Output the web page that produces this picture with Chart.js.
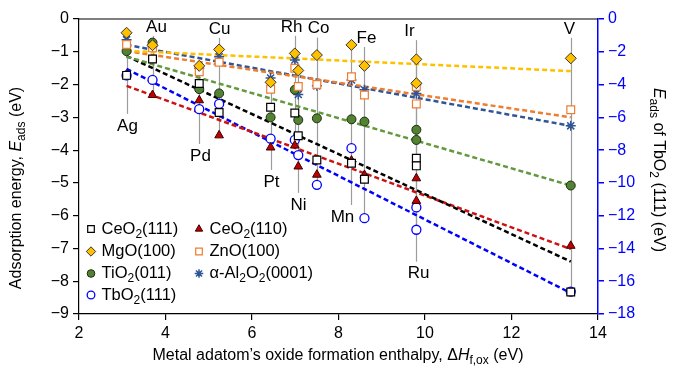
<!DOCTYPE html>
<html lang="en">
<head>
<meta charset="UTF-8" />
<title>Adsorption energy vs oxide formation enthalpy</title>
<style>
  html, body { margin: 0; padding: 0; background: #fff; }
  .box { width: 675px; height: 368px; }
</style>
</head>
<body>
<div class="box"><canvas id="myChart" width="675" height="368"></canvas></div>
<script src="https://cdn.jsdelivr.net/npm/chart.js"></script>
<script>
// metal adatoms and their oxide formation enthalpy (eV)
const metals = ["Ag", "Au", "Pd", "Cu", "Pt", "Rh", "Ni", "Co", "Mn", "Fe", "Ir", "Ru", "V"];
const dH = [3.10, 3.70, 4.78, 5.24, 6.43, 6.99, 7.07, 7.50, 8.30, 8.60, 9.80, 9.80, 13.37];

// adsorption energies (eV), same order as metals
const ceo2_111 = [-1.72, -1.22, -1.97, -2.85, -2.69, -2.87, -3.56, -4.30, -4.40, -4.89, -4.25, -4.48, -8.33];
const ceo2_110 = [-1.70, -2.32, -2.48, -3.55, -3.92, -3.86, -4.50, -4.75, -4.32, -4.76, -4.86, -5.55, -6.92];
const mgo_100  = [-0.42, -0.80, -1.43, -0.93, -1.93, -1.05, -1.57, -1.10, -0.79, -1.43, -1.23, -1.96, -1.20];
const zno_100  = [-0.78, -0.88, -1.61, -1.32, -2.14, -1.50, -2.06, -2.00, -1.76, -2.32, -2.06, -2.59, -2.77];
const tio2_011 = [-0.98, -0.72, -2.14, -2.27, -3.00, -2.16, -3.08, -3.03, -3.06, -3.13, -3.38, -3.69, -5.08];
const al2o3    = [-0.63, -0.84, -1.50, -1.15, -1.80, -1.25, -2.30, -2.04, -1.86, -2.16, -2.27, -2.00, -3.26];
// TbO2 is read on the right axis
const tbo2_111 = [-3.44, -3.72, -5.50, -5.18, -7.30, -7.38, -8.30, -10.12, -7.88, -12.15, -11.50, -12.86, -16.63];

// dashed fit lines, endpoints at Ag and V
const fitX = [3.10, 13.37];
const fitCeo2_111 = [-1.13, -7.40];
const fitCeo2_110 = [-2.04, -7.02];
const fitMgo = [-0.97, -1.59];
const fitZno = [-0.98, -3.00];
const fitTio2 = [-1.15, -5.08];
const fitAl2o3 = [-0.79, -3.26];
const fitTbo2 = [-3.05, -16.72];

// where each metal name sits (left-axis eV), which side, and how far its guide line reaches
const labelY = [-3.26, -0.24, -4.18, -0.30, -4.97, -0.24, -5.67, -0.29, -6.04, -0.58, -0.37, -7.77, -0.30];
const labelUp = [false, true, false, true, false, true, false, true, false, true, true, false, true];
const lineEnd = [-0.40, -2.32, -1.35, -3.55, -1.75, -3.86, -1.55, -5.06, -0.79, -6.08, -6.43, -1.23, -8.31];
const labelDx = [0, 3, 1, 0, 0, -4, 0, 1, -9, 2, -7, 2, -2];

const FONT = '"Liberation Sans", Arial, Helvetica, sans-serif';

const pts = ys => ys.map((y, i) => ({ x: dH[i], y: y }));
const line = ys => ys.map((y, i) => ({ x: fitX[i], y: y }));

function markers(label, ys, style, r, bg, border, bw, axis) {
  return {
    label: label, data: pts(ys), yAxisID: axis || "y",
    pointStyle: style, pointRadius: r, pointBackgroundColor: bg,
    pointBorderColor: border, pointBorderWidth: bw, showLine: false, order: 0
  };
}
function fit(ys, color, axis) {
  return {
    label: "", data: line(ys), yAxisID: axis || "y", showLine: true,
    borderColor: color, borderWidth: 2.5, borderDash: [5, 3], pointRadius: 0, order: 1
  };
}

const sets = [
  markers("CeO₂(111)", ceo2_111, "rect", 5.5, "#fff", "#000", 1.2),
  markers("CeO₂(110)", ceo2_110, "triangle", 5, "#C00000", "#3a0000", 1),
  markers("MgO(100)", mgo_100, "rectRot", 5.5, "#FFC000", "#333", 1),
  markers("ZnO(100)", zno_100, "rect", 5.5, "#fff", "#ED7D31", 1.2),
  markers("TiO₂(011)", tio2_011, "circle", 4.5, "#548235", "#1b2e0e", 1),
  markers("α-Al₂O₂(0001)", al2o3, "star", 5, "#2F5597", "#2F5597", 1.5),
  markers("TbO₂(111)", tbo2_111, "circle", 4.5, "#fff", "#0000FF", 1.3, "y2"),
  fit(fitMgo, "#FFC000"),
  fit(fitZno, "#ED7D31"),
  fit(fitAl2o3, "#2F5597"),
  fit(fitTio2, "#62993E"),
  fit(fitCeo2_111, "#000000"),
  fit(fitCeo2_110, "#CC1111"),
  fit(fitTbo2, "#0000FF", "y2")
];

// text with italic parts and subscripts: parts = [[text, "" | "i" | "sub"], ...]
function drawRich(ctx, parts, x, y, size, align) {
  const fontOf = s => (s === "i" ? "italic " : "") + (s === "sub" ? Math.round(size * 0.72) : size) + "px " + FONT;
  let w = 0;
  parts.forEach(([t, s]) => { ctx.font = fontOf(s); w += ctx.measureText(t).width; });
  let cx = align === "left" ? x : x - w / 2;
  ctx.textAlign = "left";
  ctx.textBaseline = "middle";
  parts.forEach(([t, s]) => {
    ctx.font = fontOf(s);
    ctx.fillText(t, cx, y + (s === "sub" ? size * 0.32 : 0));
    cx += ctx.measureText(t).width;
  });
}
// "CeO₂(111)" -> parts with a real subscript
function subParts(label) {
  return label.split(/(₂)/).filter(t => t).map(t => t === "₂" ? ["2", "sub"] : [t, ""]);
}

const decor = {
  id: "decor",
  beforeDatasetsDraw(chart) {
    const { ctx, scales: { x, y } } = chart;
    ctx.save();
    ctx.strokeStyle = "#9c9c9c";
    ctx.lineWidth = 1.2;
    ctx.fillStyle = "#000";
    ctx.font = "17px " + FONT;
    ctx.textAlign = "center";
    ctx.textBaseline = "middle";
    metals.forEach((m, i) => {
      const px = Math.round(x.getPixelForValue(dH[i])) + 0.5;
      const ly = y.getPixelForValue(labelY[i]);
      const end = y.getPixelForValue(lineEnd[i]);
      const start = labelUp[i] ? ly + 9 : ly - 12;
      ctx.beginPath();
      ctx.moveTo(px, start);
      ctx.lineTo(px, end);
      ctx.stroke();
      ctx.fillText(m, px + labelDx[i], ly);
    });
    ctx.restore();
  },
  afterDraw(chart) {
    const { ctx, chartArea: a } = chart;
    ctx.save();
    // top frame
    ctx.strokeStyle = "#000";
    ctx.lineWidth = 1.2;
    ctx.beginPath();
    ctx.moveTo(a.left, a.top);
    ctx.lineTo(a.right, a.top);
    ctx.stroke();

    // legend, two columns inside the plot
    const colX = [a.left + 12, a.left + 120];
    const rowY = [229, 251.5, 273.5, 295];
    for (let i = 0; i < 7; i++) {
      const ds = chart.data.datasets[i];
      const mx = colX[i % 2], my = rowY[Math.floor(i / 2)];
      ctx.fillStyle = ds.pointBackgroundColor;
      ctx.strokeStyle = ds.pointBorderColor;
      ctx.lineWidth = ds.pointBorderWidth;
      Chart.helpers.drawPoint(ctx, {
        pointStyle: ds.pointStyle, radius: ds.pointRadius * 0.85,
        rotation: 0, borderWidth: ds.pointBorderWidth
      }, mx, my);
      ctx.fillStyle = "#000";
      drawRich(ctx, subParts(ds.label), mx + 10.5, my, 16.5, "left");
    }

    // axis titles
    ctx.fillStyle = "#000";
    drawRich(ctx, [["Metal adatom’s oxide formation enthalpy, Δ", ""], ["H", "i"], ["f,ox", "sub"], [" (eV)", ""]],
      338, 356, 16);
    ctx.save();
    ctx.translate(17, 188);
    ctx.rotate(-Math.PI / 2);
    drawRich(ctx, [["Adsorption energy, ", ""], ["E", "i"], ["ads", "sub"], [" (eV)", ""]], 0, 0, 16);
    ctx.restore();
    ctx.save();
    ctx.translate(658, 170);
    ctx.rotate(Math.PI / 2);
    drawRich(ctx, [["E", "i"], ["ads", "sub"], [" of TbO", ""], ["2", "sub"], [" (111) (eV)", ""]], 0, 0, 16);
    ctx.restore();
    ctx.restore();
  }
};

const minus = v => (v < 0 ? "−" + Math.abs(v) : "" + v);

new Chart(document.getElementById("myChart").getContext("2d"), {
  type: "scatter",
  data: { datasets: sets },
  options: {
    responsive: false,
    animation: false,
    layout: { padding: { top: 19, left: 0, right: 0, bottom: 0 } },
    plugins: { legend: { display: false }, tooltip: { enabled: false } },
    scales: {
      x: {
        type: "linear", min: 2, max: 14,
        ticks: { stepSize: 2, color: "#000", font: { family: FONT, size: 16 }, padding: 4, maxRotation: 0 },
        grid: { drawOnChartArea: false, drawTicks: true, tickLength: 6, color: "#000", lineWidth: 1.2 },
        border: { color: "#000", width: 1.2 },
        afterFit: s => { s.height = 54; }
      },
      y: {
        position: "left", min: -9, max: 0,
        ticks: { stepSize: 1, color: "#000", font: { family: FONT, size: 16 }, padding: 4, callback: minus },
        grid: { drawOnChartArea: false, drawTicks: true, tickLength: 6, color: "#000", lineWidth: 1.2 },
        border: { color: "#000", width: 1.2 },
        afterFit: s => { s.width = 79; }
      },
      y2: {
        position: "right", min: -18, max: 0,
        ticks: { stepSize: 2, color: "#0000FF", font: { family: FONT, size: 16 }, padding: 4, callback: minus },
        grid: { drawOnChartArea: false, drawTicks: true, tickLength: 6, color: "#0000FF", lineWidth: 1.5 },
        border: { color: "#0000FF", width: 1.5 },
        afterFit: s => { s.width = 77; }
      }
    }
  },
  plugins: [decor]
});
</script>
</body>
</html>
